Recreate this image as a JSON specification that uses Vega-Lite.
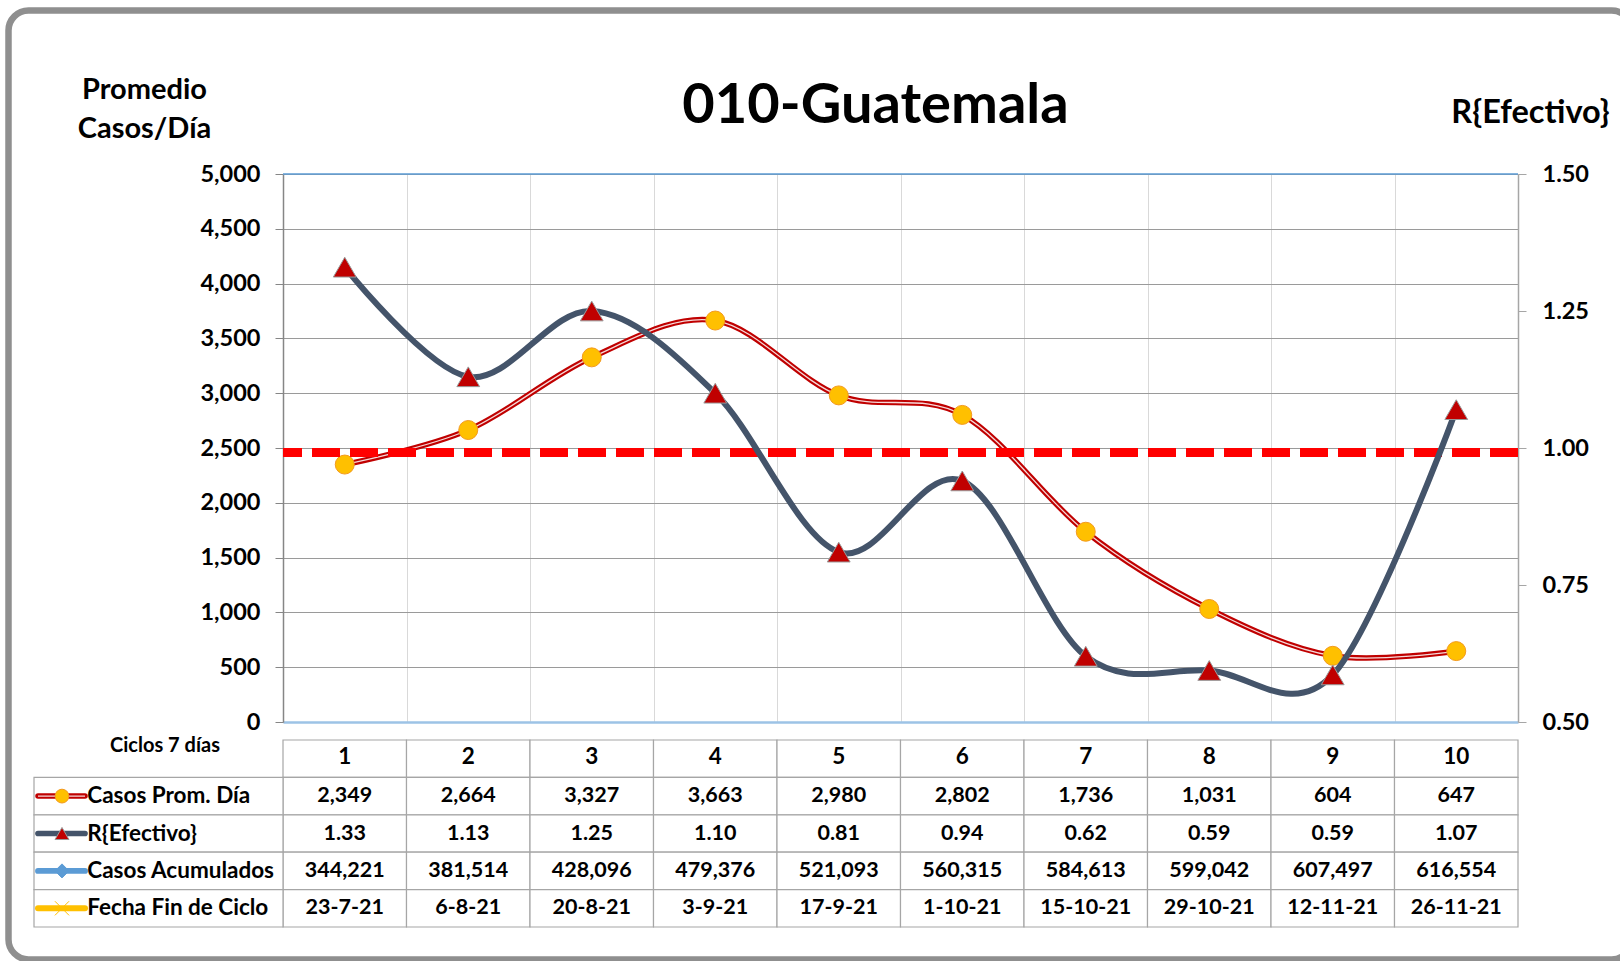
{
  "$schema": "https://vega.github.io/schema/vega-lite/v6.json",
  "padding": {"left": 5, "top": 7, "right": -14, "bottom": -2},
  "autosize": {"type": "pad"},
  "background": "white",
  "config": {"view": {"stroke": null}, "font": "Lato"},
  "datasets": {
    "ciclos": [
      {"ciclo": 1, "casos": 2349, "r": 1.33, "acum": 344221, "fecha": "23-7-21"},
      {"ciclo": 2, "casos": 2664, "r": 1.13, "acum": 381514, "fecha": "6-8-21"},
      {"ciclo": 3, "casos": 3327, "r": 1.25, "acum": 428096, "fecha": "20-8-21"},
      {"ciclo": 4, "casos": 3663, "r": 1.10, "acum": 479376, "fecha": "3-9-21"},
      {"ciclo": 5, "casos": 2980, "r": 0.81, "acum": 521093, "fecha": "17-9-21"},
      {"ciclo": 6, "casos": 2802, "r": 0.94, "acum": 560315, "fecha": "1-10-21"},
      {"ciclo": 7, "casos": 1736, "r": 0.62, "acum": 584613, "fecha": "15-10-21"},
      {"ciclo": 8, "casos": 1031, "r": 0.594, "acum": 599042, "fecha": "29-10-21"},
      {"ciclo": 9, "casos": 604, "r": 0.586, "acum": 607497, "fecha": "12-11-21"},
      {"ciclo": 10, "casos": 647, "r": 1.07, "acum": 616554, "fecha": "26-11-21"}
    ],
    "filas": [
      {"fila": "casos", "etiqueta": "Casos Prom. Día"},
      {"fila": "r", "etiqueta": "R{Efectivo}"},
      {"fila": "acum", "etiqueta": "Casos Acumulados"},
      {"fila": "fecha", "etiqueta": "Fecha Fin de Ciclo"},
      {"fila": "h", "etiqueta": "Ciclos 7 días"}
    ]
  },
  "bounds": "flush",
  "spacing": 18,
  "vconcat": [
    {
      "width": 1235,
      "height": 548,
      "data": {"name": "ciclos"},
      "title": {"text": "010-Guatemala", "font": "Lato", "fontSize": 56, "fontWeight": "bold", "color": "#000000", "anchor": "middle", "frame": "group", "dx": -25, "dy": 128, "offset": 0},
      "resolve": {"scale": {"y": "independent"}},
      "layer": [
        {
          "layer": [
            {
              "transform": [{"filter": "datum.ciclo == 1"}],
              "mark": {"type": "rect", "fill": "white", "fillOpacity": 0, "stroke": "#8f8f8f", "strokeWidth": 6.5, "cornerRadius": 20},
              "encoding": {
                "x": {"datum": -1.7227, "type": "quantitative"},
                "x2": {"datum": 11.42},
                "y": {"datum": 6491.8, "type": "quantitative"},
                "y2": {"datum": -2166}
              }
            },
            {
              "transform": [{"filter": "datum.ciclo == 1"}],
              "mark": {"type": "rule", "color": "#5B9BD5", "strokeWidth": 1.5},
              "encoding": {
                "y": {"datum": 5000, "type": "quantitative"}
              }
            },
            {
              "mark": {"type": "line", "color": "#C00000", "strokeWidth": 5.5, "interpolate": "cardinal", "tension": 0},
              "encoding": {
                "x": {"field": "ciclo", "type": "quantitative", "scale": {"domain": [0.5, 10.5], "nice": false, "zero": false},
                  "axis": {"values": [1.5, 2.5, 3.5, 4.5, 5.5, 6.5, 7.5, 8.5, 9.5], "grid": true, "gridColor": "#d9d9d9", "gridWidth": 1, "labels": false, "ticks": false, "domain": true, "domainColor": "#9DC3E6", "domainWidth": 2.5, "title": null}},
                "y": {"field": "casos", "type": "quantitative", "scale": {"domain": [0, 5000], "nice": false, "zero": false},
                  "axis": {"orient": "left", "values": [0, 500, 1000, 1500, 2000, 2500, 3000, 3500, 4000, 4500, 5000], "format": ",", "labelExpr": "format(datum.value, ',')", "grid": true, "gridColor": "#9a9a9a", "gridWidth": 1, "domain": true, "domainColor": "#868686", "domainWidth": 1.5, "tickColor": "#868686", "tickSize": 8, "labelFont": "Lato", "labelFontSize": 23.5, "labelFontWeight": "bold", "labelColor": "#000000", "labelPadding": 15,
                    "title": ["Promedio", "Casos/Día"], "titleFont": "Lato", "titleFontSize": 29, "titleFontWeight": "bold", "titleColor": "#000000", "titleAngle": 0, "titleAlign": "center", "titleBaseline": "middle", "titleX": -139, "titleY": -85, "titleLineHeight": 39}}
              }
            },
            {
              "mark": {"type": "line", "color": "#ffffff", "strokeWidth": 1.3, "opacity": 0.85, "interpolate": "cardinal", "tension": 0},
              "encoding": {
                "x": {"field": "ciclo", "type": "quantitative"},
                "y": {"field": "casos", "type": "quantitative"}
              }
            },
            {
              "mark": {"type": "point", "shape": "circle", "filled": true, "size": 361, "fill": "#FFC000", "stroke": "#F39A1E", "strokeWidth": 1, "opacity": 1},
              "encoding": {
                "x": {"field": "ciclo", "type": "quantitative"},
                "y": {"field": "casos", "type": "quantitative"}
              }
            }
          ]
        },
        {
          "layer": [
            {
              "transform": [{"filter": "datum.ciclo == 1"}],
              "mark": {"type": "rule", "color": "#FF0000", "strokeWidth": 9, "strokeDash": [28, 10]},
              "encoding": {
                "y": {"datum": 0.992, "type": "quantitative"}
              }
            },
            {
              "mark": {"type": "line", "color": "#44546A", "strokeWidth": 6, "interpolate": "cardinal", "tension": 0},
              "encoding": {
                "x": {"field": "ciclo", "type": "quantitative", "scale": {"domain": [0.5, 10.5], "nice": false, "zero": false},
                  "axis": {"values": [1.5, 2.5, 3.5, 4.5, 5.5, 6.5, 7.5, 8.5, 9.5], "grid": true, "gridColor": "#d9d9d9", "gridWidth": 1, "labels": false, "ticks": false, "domain": true, "domainColor": "#9DC3E6", "domainWidth": 2.5, "title": null}},
                "y": {"field": "r", "type": "quantitative", "scale": {"domain": [0.5, 1.5], "nice": false, "zero": false},
                  "axis": {"orient": "right", "values": [0.5, 0.75, 1, 1.25, 1.5], "format": ".2f", "grid": false, "domain": true, "domainColor": "#a6a6a6", "domainWidth": 1.5, "tickColor": "#a6a6a6", "tickSize": 8, "labelFont": "Lato", "labelFontSize": 23.5, "labelFontWeight": "bold", "labelColor": "#000000", "labelPadding": 16,
                    "title": "R{Efectivo}", "titleFont": "Lato", "titleFontSize": 32.5, "titleFontWeight": "bold", "titleColor": "#000000", "titleAngle": 0, "titleAlign": "center", "titleBaseline": "middle", "titleX": 12, "titleY": -62}}
              }
            },
            {
              "mark": {"type": "point", "shape": "triangle-up", "filled": true, "size": 520, "fill": "#C00000", "stroke": "#9a9a9a", "strokeWidth": 1, "opacity": 1},
              "encoding": {
                "x": {"field": "ciclo", "type": "quantitative"},
                "y": {"field": "r", "type": "quantitative"}
              }
            }
          ]
        }
      ]
    },
    {
      "width": 1235,
      "height": 187,
      "data": {"name": "ciclos"},
      "layer": [
        {
          "mark": {"type": "rect", "fill": "white", "stroke": "#a6a6a6", "strokeWidth": 1.2, "xOffset": -61.75, "x2Offset": 61.75},
          "encoding": {
            "x": {"field": "ciclo", "type": "quantitative", "scale": {"domain": [0.5, 10.5], "nice": false, "zero": false}, "axis": null},
            "x2": {"field": "ciclo"},
            "y": {"datum": "h", "type": "nominal", "scale": {"domain": ["h", "casos", "r", "acum", "fecha"], "paddingInner": 0, "paddingOuter": 0}, "axis": null}
          }
        },
        {
          "transform": [{"fold": ["casos", "r", "acum", "fecha"], "as": ["fila", "valor"]}],
          "mark": {"type": "rect", "fill": "white", "stroke": "#a6a6a6", "strokeWidth": 1.2, "xOffset": -61.75, "x2Offset": 61.75},
          "encoding": {
            "x": {"field": "ciclo", "type": "quantitative", "axis": null},
            "x2": {"field": "ciclo"},
            "y": {"field": "fila", "type": "nominal", "axis": null}
          }
        },
        {
          "data": {"name": "filas"},
          "transform": [{"filter": "datum.fila != 'h'"}],
          "mark": {"type": "rect", "fill": "white", "stroke": "#a6a6a6", "strokeWidth": 1.2},
          "encoding": {
            "x": {"datum": -1.5162, "type": "quantitative", "axis": null},
            "x2": {"datum": 0.5},
            "y": {"field": "fila", "type": "nominal", "axis": null}
          }
        },
        {
          "data": {"name": "filas"},
          "transform": [{"filter": "datum.fila != 'h'"}],
          "mark": {"type": "rule", "strokeCap": "round"},
          "encoding": {
            "x": {"datum": -1.4838, "type": "quantitative", "axis": null},
            "x2": {"datum": -1.1032},
            "y": {"field": "fila", "type": "nominal", "axis": null},
            "color": {"field": "fila", "type": "nominal", "scale": {"domain": ["casos", "r", "acum", "fecha"], "range": ["#C00000", "#44546A", "#5B9BD5", "#FFC000"]}, "legend": null},
            "strokeWidth": {"field": "fila", "type": "nominal", "scale": {"domain": ["casos", "r", "acum", "fecha"], "range": [5.5, 6, 3, 3]}, "legend": null}
          }
        },
        {
          "data": {"name": "filas"},
          "transform": [{"filter": "datum.fila == 'casos'"}],
          "mark": {"type": "rule", "color": "#ffffff", "strokeWidth": 1.3, "opacity": 0.85},
          "encoding": {
            "x": {"datum": -1.4838, "type": "quantitative", "axis": null},
            "x2": {"datum": -1.1032},
            "y": {"field": "fila", "type": "nominal", "axis": null}
          }
        },
        {
          "data": {"name": "filas"},
          "transform": [{"filter": "datum.fila != 'h'"}],
          "mark": {"type": "point", "filled": true, "strokeWidth": 1, "opacity": 1},
          "encoding": {
            "x": {"datum": -1.2895, "type": "quantitative", "axis": null},
            "y": {"field": "fila", "type": "nominal", "axis": null},
            "shape": {"field": "fila", "type": "nominal", "scale": {"domain": ["casos", "r", "acum", "fecha"], "range": ["circle", "triangle-up", "diamond", "M-1,-1L1,1M-1,1L1,-1"]}, "legend": null},
            "fill": {"field": "fila", "type": "nominal", "scale": {"domain": ["casos", "r", "acum", "fecha"], "range": ["#FFC000", "#C00000", "#5B9BD5", "#FFC000"]}, "legend": null},
            "stroke": {"field": "fila", "type": "nominal", "scale": {"domain": ["casos", "r", "acum", "fecha"], "range": ["#F39A1E", "#9a9a9a", "#5B9BD5", "#FFC000"]}, "legend": null},
            "size": {"field": "fila", "type": "nominal", "scale": {"domain": ["casos", "r", "acum", "fecha"], "range": [190, 200, 100, 140]}, "legend": null}
          }
        },
        {
          "data": {"name": "filas"},
          "transform": [{"filter": "datum.fila != 'h'"}],
          "mark": {"type": "text", "align": "left", "baseline": "middle", "fontSize": 22.5, "fontWeight": "bold", "color": "#000000"},
          "encoding": {
            "x": {"datum": -1.0846, "type": "quantitative", "axis": null},
            "y": {"field": "fila", "type": "nominal", "axis": null},
            "text": {"field": "etiqueta", "type": "nominal"}
          }
        },
        {
          "data": {"name": "filas"},
          "transform": [{"filter": "datum.fila == 'h'"}],
          "mark": {"type": "text", "align": "center", "baseline": "middle", "fontSize": 20, "fontWeight": "bold", "color": "#000000", "dy": -13},
          "encoding": {
            "x": {"datum": -0.4555, "type": "quantitative", "axis": null},
            "y": {"field": "fila", "type": "nominal", "axis": null},
            "text": {"field": "etiqueta", "type": "nominal"}
          }
        },
        {
          "mark": {"type": "text", "align": "center", "baseline": "middle", "fontSize": 22.5, "fontWeight": "bold", "color": "#000000", "dy": -2},
          "encoding": {
            "x": {"field": "ciclo", "type": "quantitative", "axis": null},
            "y": {"datum": "h", "type": "nominal", "axis": null},
            "text": {"field": "ciclo", "type": "quantitative"}
          }
        },
        {
          "mark": {"type": "text", "align": "center", "baseline": "middle", "fontSize": 21.5, "fontWeight": "bold", "color": "#000000"},
          "encoding": {
            "x": {"field": "ciclo", "type": "quantitative", "axis": null},
            "y": {"datum": "casos", "type": "nominal", "axis": null},
            "text": {"field": "casos", "type": "quantitative", "format": ","}
          }
        },
        {
          "mark": {"type": "text", "align": "center", "baseline": "middle", "fontSize": 21.5, "fontWeight": "bold", "color": "#000000"},
          "encoding": {
            "x": {"field": "ciclo", "type": "quantitative", "axis": null},
            "y": {"datum": "r", "type": "nominal", "axis": null},
            "text": {"field": "r", "type": "quantitative", "format": ".2f"}
          }
        },
        {
          "mark": {"type": "text", "align": "center", "baseline": "middle", "fontSize": 21.5, "fontWeight": "bold", "color": "#000000"},
          "encoding": {
            "x": {"field": "ciclo", "type": "quantitative", "axis": null},
            "y": {"datum": "acum", "type": "nominal", "axis": null},
            "text": {"field": "acum", "type": "quantitative", "format": ","}
          }
        },
        {
          "mark": {"type": "text", "align": "center", "baseline": "middle", "fontSize": 21.5, "fontWeight": "bold", "color": "#000000"},
          "encoding": {
            "x": {"field": "ciclo", "type": "quantitative", "axis": null},
            "y": {"datum": "fecha", "type": "nominal", "axis": null},
            "text": {"field": "fecha", "type": "nominal"}
          }
        }
      ]
    }
  ]
}
